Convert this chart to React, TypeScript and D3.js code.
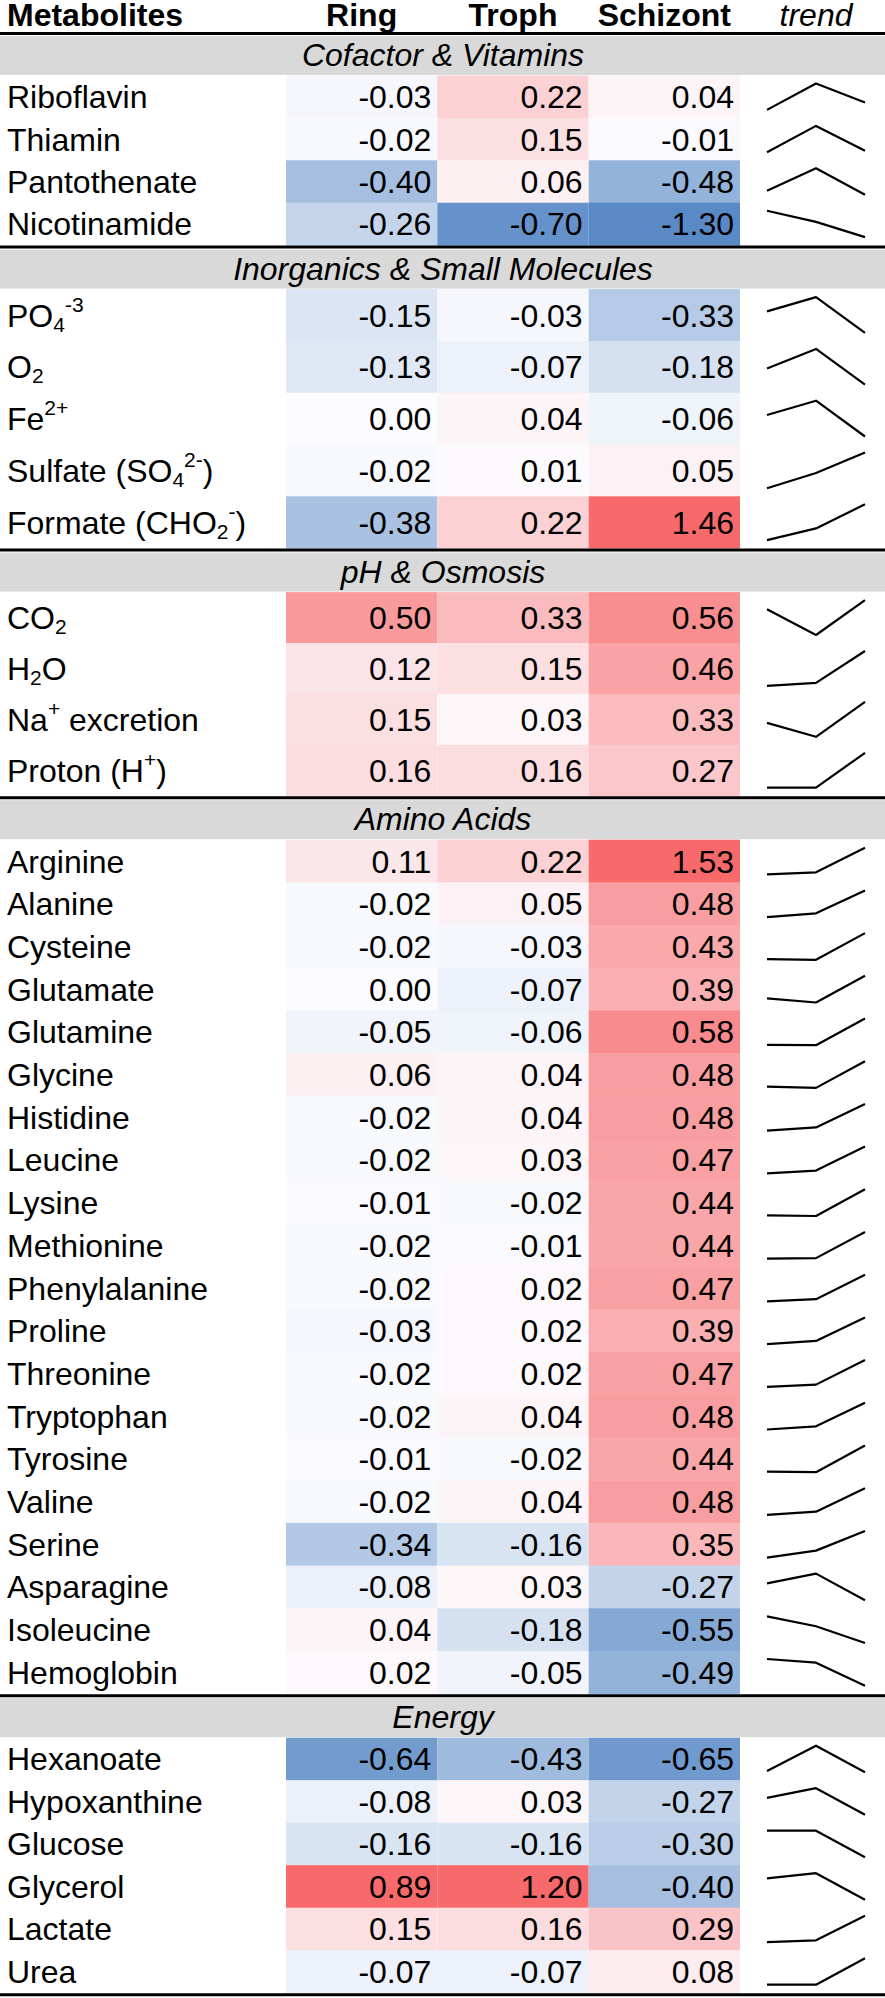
import React from "react";
import * as d3 from "d3";

// stage columns and section groups
const stages = ["Ring", "Troph", "Schizont"];
const sections = ["Cofactor & Vitamins", "Inorganics & Small Molecules", "pH & Osmosis", "Amino Acids", "Energy"];
const sectionSizes = [4, 5, 4, 20, 6];

// _{..} subscript, ^{..} superscript
const metabolites = [
  "Riboflavin", "Thiamin", "Pantothenate", "Nicotinamide",
  "PO_{4}^{-3}", "O_{2}", "Fe^{2+}", "Sulfate (SO_{4}^{2-})", "Formate (CHO_{2}^{-})",
  "CO_{2}", "H_{2}O", "Na^{+} excretion", "Proton (H^{+})",
  "Arginine", "Alanine", "Cysteine", "Glutamate", "Glutamine", "Glycine", "Histidine", "Leucine",
  "Lysine", "Methionine", "Phenylalanine", "Proline", "Threonine", "Tryptophan", "Tyrosine", "Valine",
  "Serine", "Asparagine", "Isoleucine", "Hemoglobin",
  "Hexanoate", "Hypoxanthine", "Glucose", "Glycerol", "Lactate", "Urea",
];

const ring = [
  -0.03, -0.02, -0.40, -0.26,
  -0.15, -0.13, 0.00, -0.02, -0.38,
  0.50, 0.12, 0.15, 0.16,
  0.11, -0.02, -0.02, 0.00, -0.05, 0.06, -0.02, -0.02, -0.01, -0.02, -0.02, -0.03, -0.02, -0.02, -0.01, -0.02,
  -0.34, -0.08, 0.04, 0.02,
  -0.64, -0.08, -0.16, 0.89, 0.15, -0.07,
];
const troph = [
  0.22, 0.15, 0.06, -0.70,
  -0.03, -0.07, 0.04, 0.01, 0.22,
  0.33, 0.15, 0.03, 0.16,
  0.22, 0.05, -0.03, -0.07, -0.06, 0.04, 0.04, 0.03, -0.02, -0.01, 0.02, 0.02, 0.02, 0.04, -0.02, 0.04,
  -0.16, 0.03, -0.18, -0.05,
  -0.43, 0.03, -0.16, 1.20, 0.16, -0.07,
];
const schizont = [
  0.04, -0.01, -0.48, -1.30,
  -0.33, -0.18, -0.06, 0.05, 1.46,
  0.56, 0.46, 0.33, 0.27,
  1.53, 0.48, 0.43, 0.39, 0.58, 0.48, 0.48, 0.47, 0.44, 0.44, 0.47, 0.39, 0.47, 0.48, 0.44, 0.48,
  0.35, -0.27, -0.55, -0.49,
  -0.65, -0.27, -0.30, -0.40, 0.29, 0.08,
];

// layout
const W = 885;
const H = 1998;
const FONT = "'Liberation Sans', Arial, Helvetica, sans-serif";
const FS = 32;
const rowH = [42.4, 51.8, 50.9, 42.7, 42.5];
const headerLineY = 33.5;
const bandH = 39;
const colRange: [number, number] = [286, 740];
const trendRange: [number, number] = [767, 865];

const fmt = d3.formatLocale({ decimal: ".", thousands: ",", grouping: [3], currency: ["", ""], minus: "-" }).format(".2f");
const color = d3.scaleLinear<string>().domain([-0.75, 0, 0.75]).range(["#5A8AC6", "#FCFCFF", "#F8696B"]).clamp(true);

function parseLabel(s: string) {
  const out: { t: string; k: number }[] = [];
  const re = /([_^])\{([^}]*)\}/g;
  let last = 0;
  let m: RegExpExecArray | null;
  while ((m = re.exec(s))) {
    if (m.index > last) out.push({ t: s.slice(last, m.index), k: 0 });
    out.push({ t: m[2], k: m[1] === "_" ? 1 : -1 });
    last = re.lastIndex;
  }
  if (last < s.length) out.push({ t: s.slice(last), k: 0 });
  return out;
}

function RichLabel({ x, y, text }: { x: number; y: number; text: string }) {
  let cur = 0;
  return (
    <text x={x} y={y} fontSize={FS} style={{ whiteSpace: "pre" }}>
      {parseLabel(text).map((p, i) => {
        const off = p.k === 1 ? 5 : p.k === -1 ? -15 : 0;
        const dy = off - cur;
        cur = off;
        return (
          <tspan key={i} dy={dy} fontSize={p.k ? 21 : FS}>
            {p.t}
          </tspan>
        );
      })}
    </text>
  );
}

export default function App() {
  const x = d3.scaleBand<string>().domain(stages).range(colRange);
  const tx = d3.scalePoint<string>().domain(stages).range(trendRange);
  const cols = [ring, troph, schizont];

  // section blocks: rule line, grey band, rows
  const blocks: { name: string; lineY: number; bandY: number; rows: d3.ScaleBand<string>; idx: number[] }[] = [];
  let lineY = headerLineY;
  let start = 0;
  sections.forEach((name, s) => {
    const idx = d3.range(start, start + sectionSizes[s]);
    const top = lineY + 42;
    const rows = d3
      .scaleBand<string>()
      .domain(idx.map(String))
      .range([top, top + idx.length * rowH[s]]);
    blocks.push({ name, lineY, bandY: lineY + 2.5, rows, idx });
    lineY = top + idx.length * rowH[s] + 2;
    start += sectionSizes[s];
  });
  const bottomLineY = lineY;

  const line = d3.line<[number, number]>();

  return (
    <svg
      width={W}
      height={H}
      viewBox={`0 0 ${W} ${H}`}
      style={{ position: "absolute", left: 0, top: 0, background: "#fff" }}
      fontFamily={FONT}
    >
      <rect width={W} height={H} fill="#fff" />

      {/* header */}
      <g fontSize={FS} fill="#000">
        <text x={7} y={25.5} fontWeight="bold">Metabolites</text>
        {stages.map((s) => (
          <text key={s} x={x(s)! + x.bandwidth() / 2} y={25.5} fontWeight="bold" textAnchor="middle">
            {s}
          </text>
        ))}
        <text x={816} y={25.5} fontStyle="italic" textAnchor="middle">trend</text>
      </g>

      {blocks.map((b) => (
        <g key={b.name}>
          <rect x={0} y={b.bandY} width={W} height={bandH} fill="#d9d9d9" />
          <text x={443} y={b.bandY + bandH / 2 + 10.5} fontSize={FS} fontStyle="italic" textAnchor="middle">
            {b.name}
          </text>
          {b.idx.map((i) => {
            const y0 = b.rows(String(i))!;
            const h = b.rows.bandwidth();
            const vals = cols.map((c) => c[i]);
            const ext = d3.extent(vals) as [number, number];
            const y = d3.scaleLinear().domain(ext).range([y0 + h - 8, y0 + 8]);
            const pts = stages.map((s, j) => [tx(s)!, ext[0] === ext[1] ? y0 + h / 2 : y(vals[j])] as [number, number]);
            return (
              <g key={i}>
                {stages.map((s, j) => (
                  <rect key={s} x={x(s)} y={y0} width={x.bandwidth()} height={h + 0.5} fill={color(vals[j])} />
                ))}
                <RichLabel x={7} y={y0 + h / 2 + 11.5} text={metabolites[i]} />
                {stages.map((s, j) => (
                  <text key={s} x={x(s)! + x.bandwidth() - 6} y={y0 + h / 2 + 11.5} fontSize={FS} textAnchor="end">
                    {fmt(vals[j])}
                  </text>
                ))}
                <path d={line(pts) ?? ""} fill="none" stroke="#000" strokeWidth={2.2} strokeLinejoin="round" />
              </g>
            );
          })}
          <line x1={0} x2={W} y1={b.lineY} y2={b.lineY} stroke="#000" strokeWidth={3} />
        </g>
      ))}
      <line x1={0} x2={W} y1={bottomLineY} y2={bottomLineY} stroke="#000" strokeWidth={3} />
    </svg>
  );
}
